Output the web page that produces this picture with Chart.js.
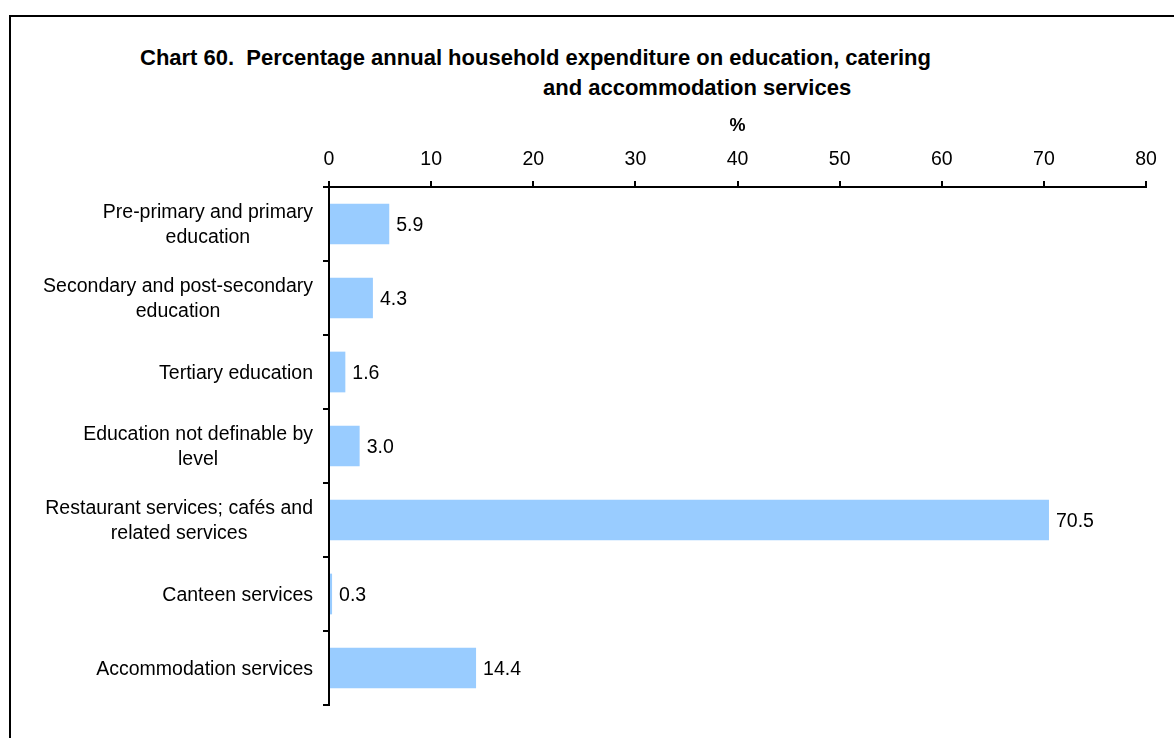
<!DOCTYPE html>
<html>
<head>
<meta charset="UTF-8">
<title>Chart 60</title>
<script src="https://cdn.jsdelivr.net/npm/chart.js@4.4.0/dist/chart.umd.min.js"></script>
<style>
  body { margin: 0; width: 1174px; height: 738px; overflow: hidden; background: #fff;
         font-family: "Liberation Sans", Arial, sans-serif; }
  #frame { position: absolute; left: 9px; top: 15px; width: 1300px; height: 900px; border: 2px solid #000; }
  .title { position: absolute; font-weight: bold; font-size: 22px; line-height: 26px; white-space: pre; color: #000; }
  canvas { position: absolute; left: 0; top: 0; }
</style>
</head>
<body>
<div id="frame"></div>
<div class="title" style="left:140px; top:45px;">Chart 60.  Percentage annual household expenditure on education, catering</div>
<div class="title" style="left:543px; top:75px;">and accommodation services</div>
<canvas id="myChart" width="1174" height="738"></canvas>

<script>
// data
var categories = [
  ['Pre-primary and primary', 'education'],
  ['Secondary and post-secondary', 'education'],
  ['Tertiary education'],
  ['Education not definable by', 'level'],
  ['Restaurant services; cafés and', 'related services'],
  ['Canteen services'],
  ['Accommodation services']
];
var values = [5.9, 4.3, 1.6, 3.0, 70.5, 0.3, 14.4];
var xMin = 0, xMax = 80, xStep = 10;
var axisTitle = '%';

var font = '"Liberation Sans", Arial, sans-serif';

// category labels: block right-aligned, lines centred inside the block
var yLabels = {
  id: 'yLabels',
  afterDraw: function(chart) {
    var ctx = chart.ctx, y = chart.scales.y;
    ctx.save();
    ctx.font = '19.5px ' + font;
    ctx.fillStyle = '#000';
    ctx.textAlign = 'center';
    ctx.textBaseline = 'middle';
    categories.forEach(function(lines, i) {
      var w = Math.max.apply(null, lines.map(function(l) { return ctx.measureText(l).width; }));
      var cx = y.right - 16 - w / 2;
      var cy = y.getPixelForValue(i) + 1.5;
      lines.forEach(function(l, j) {
        ctx.fillText(l, cx, cy + (j - (lines.length - 1) / 2) * 25);
      });
    });
    ctx.restore();
  }
};

// value labels at the end of each bar
var valueLabels = {
  id: 'valueLabels',
  afterDatasetsDraw: function(chart) {
    var ctx = chart.ctx;
    var meta = chart.getDatasetMeta(0);
    ctx.save();
    ctx.font = '19.5px ' + font;
    ctx.fillStyle = '#000';
    ctx.textAlign = 'left';
    ctx.textBaseline = 'middle';
    meta.data.forEach(function(bar, i) {
      ctx.fillText(values[i].toFixed(1), bar.x + 7, bar.y + 2);
    });
    ctx.restore();
  }
};

var ctx = document.getElementById('myChart').getContext('2d');
var chart = new Chart(ctx, {
  type: 'bar',
  data: {
    labels: categories.map(function(c) { return c.join(' '); }),
    datasets: [{
      data: values,
      backgroundColor: '#99CCFF',
      borderWidth: 0,
      barPercentage: 0.55,
      categoryPercentage: 1.0
    }]
  },
  options: {
    indexAxis: 'y',
    responsive: false,
    animation: false,
    devicePixelRatio: 1,
    layout: { padding: { left: 0, top: 0, right: 28, bottom: 33 } },
    plugins: { legend: { display: false }, tooltip: { enabled: false } },
    scales: {
      x: {
        position: 'top',
        min: xMin,
        max: xMax,
        ticks: { stepSize: xStep, color: '#000', font: { family: font, size: 19.5 }, padding: 10 },
        grid: { drawOnChartArea: false, color: '#000', lineWidth: 2, tickLength: 6 },
        border: { color: '#000', width: 2 },
        title: { display: true, text: axisTitle, color: '#000',
                 font: { family: font, size: 18, weight: 'bold' }, padding: { top: 115, bottom: 0 } },
        afterFit: function(s) { s.height = 187; }
      },
      y: {
        ticks: { display: false },
        grid: { drawOnChartArea: false, color: '#000', lineWidth: 2, tickLength: 6 },
        border: { color: '#000', width: 2 },
        afterFit: function(s) { s.width = 329; }
      }
    }
  },
  plugins: [yLabels, valueLabels]
});
</script>
</body>
</html>
